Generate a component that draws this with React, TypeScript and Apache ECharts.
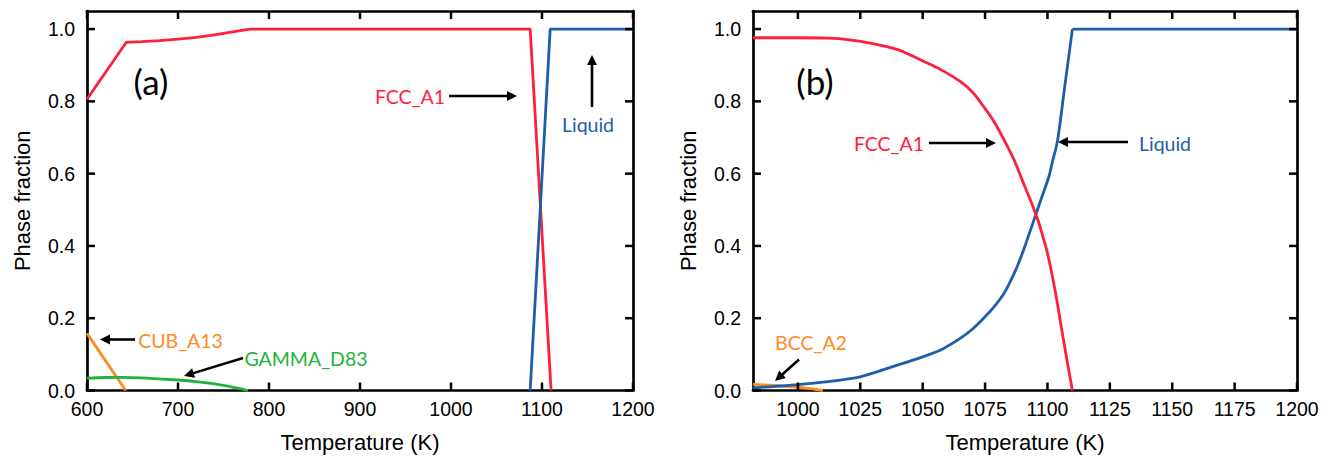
import React, { useEffect, useRef } from "react";
import * as echarts from "echarts";

// ---------- data ----------
const xTicksA = [600, 700, 800, 900, 1000, 1100, 1200];
const xTicksB = [1000, 1025, 1050, 1075, 1100, 1125, 1150, 1175, 1200];
const yTicks = [0, 0.2, 0.4, 0.6, 0.8, 1.0];

// Panel (a)
const fccA_T = [600, 643, 660, 680, 700, 720, 740, 760, 779, 1087, 1110];
const fccA_F = [0.806, 0.963, 0.965, 0.968, 0.972, 0.977, 0.984, 0.992, 1.0, 1.0, 0.0];
const liqA_T = [1087, 1109, 1200];
const liqA_F = [0.0, 1.0, 1.0];
const cubA_T = [600, 642.5];
const cubA_F = [0.158, 0.0];
const gamA_T = [600, 620, 640, 660, 680, 700, 725, 750, 777];
const gamA_F = [0.034, 0.036, 0.0365, 0.035, 0.032, 0.029, 0.023, 0.014, 0.0];

// Panel (b)
const fccB_T = [982, 1000, 1012, 1020, 1030, 1040, 1050, 1058, 1065, 1070, 1075, 1078.5, 1082.5, 1086.5, 1090, 1093, 1096, 1098, 1100, 1102, 1104, 1106, 1108, 1110];
const fccB_F = [0.976, 0.976, 0.975, 0.971, 0.96, 0.943, 0.912, 0.885, 0.855, 0.825, 0.78, 0.745, 0.695, 0.64, 0.58, 0.53, 0.475, 0.43, 0.38, 0.315, 0.24, 0.157, 0.077, 0.0];
const liqB_T = [982, 990, 1000, 1010, 1025, 1038, 1050, 1058, 1065, 1070, 1075, 1079, 1082.5, 1085, 1088, 1090.5, 1093, 1096, 1098, 1100.5, 1102, 1104, 1107, 1110];
const liqB_F = [0.007, 0.011, 0.016, 0.023, 0.038, 0.066, 0.093, 0.115, 0.144, 0.17, 0.204, 0.235, 0.268, 0.3, 0.345, 0.39, 0.44, 0.5, 0.54, 0.59, 0.633, 0.69, 0.845, 1.0];
const liqB_flat_T = [1110, 1200];
const liqB_flat_F = [1.0, 1.0];
const bccB_T = [982, 990, 1000, 1005, 1010];
const bccB_F = [0.017, 0.014, 0.009, 0.005, 0.0];

// ---------- styles / layout ----------
const RED = "#ff1f3d";
const BLUE = "#1c5ea8";
const ORANGE = "#ff8a1f";
const GREEN = "#1fb33a";
const AXIS_FONT = "'Liberation Sans', Arial, sans-serif";
const NOTE_FONT = "Lato, 'Open Sans', sans-serif";
const FRAME_W = 2.7;
const Y_MAX = 1.05;
const GRID_A = { left: 87, right: 705 };
const GRID_B = { left: 753, right: 41 };
const GRID_TOP = 11;
const GRID_BOTTOM = 70.5;
const CHART_W = 1338;
const CHART_H = 461;
const TICK_PX = 8;

const pairs = (t: number[], f: number[]) => t.map((v, i) => [v, f[i]]);

function axesFor(gi: number, min: number, max: number, labels: number[]) {
  const line = { show: true, onZero: false, lineStyle: { color: "#000", width: FRAME_W } };
  const noTick = { show: false };
  const xScale = { min, max };
  const yScale = { min: 0, max: Y_MAX };
  const xAxes = [
    {
      type: "value",
      gridIndex: gi,
      position: "bottom",
      ...xScale,
      axisLine: line,
      axisTick: noTick,
      axisLabel: {
        customValues: labels,
        color: "#000",
        fontSize: 19.5,
        fontFamily: AXIS_FONT,
        margin: 8,
        formatter: (v: number) => String(v),
      },
      splitLine: { show: false },
      name: "Temperature (K)",
      nameLocation: "middle",
      nameGap: 41,
      nameTextStyle: { fontSize: 22, color: "#000", fontFamily: AXIS_FONT },
    },
    {
      type: "value",
      gridIndex: gi,
      position: "top",
      ...xScale,
      axisLine: line,
      axisTick: noTick,
      axisLabel: { show: false },
      splitLine: { show: false },
    },
  ];
  const yAxes = [
    {
      type: "value",
      gridIndex: gi,
      position: "left",
      ...yScale,
      axisLine: line,
      axisTick: noTick,
      axisLabel: {
        customValues: yTicks,
        color: "#000",
        fontSize: 19.5,
        fontFamily: AXIS_FONT,
        margin: 12,
        formatter: (v: number) => v.toFixed(1),
      },
      splitLine: { show: false },
      name: "Phase fraction",
      nameLocation: "middle",
      nameGap: 54,
      nameRotate: 90,
      nameTextStyle: { fontSize: 22, color: "#000", fontFamily: AXIS_FONT },
    },
    {
      type: "value",
      gridIndex: gi,
      position: "right",
      ...yScale,
      axisLine: line,
      axisTick: noTick,
      axisLabel: { show: false },
      splitLine: { show: false },
    },
  ];
  return { xAxes, yAxes };
}

function lineSeries(name: string, xi: number, yi: number, data: any[], color: string, smooth: number | boolean = false) {
  return {
    type: "line",
    name,
    xAxisIndex: xi,
    yAxisIndex: yi,
    data,
    showSymbol: false,
    symbol: "none",
    smooth,
    lineStyle: { color, width: 2.8 },
    z: 3,
    silent: true,
  };
}

// inside tick marks on all four sides of a panel, from the tick lists and the panel's scale
function tickGraphics(xmin: number, xmax: number, xt: number[], grid: { left: number; right: number }) {
  const plotW = CHART_W - grid.left - grid.right;
  const plotH = CHART_H - GRID_TOP - GRID_BOTTOM;
  const x0 = grid.left;
  const x1 = CHART_W - grid.right;
  const yb = CHART_H - GRID_BOTTOM;
  const yt = GRID_TOP;
  const px = (v: number) => x0 + ((v - xmin) / (xmax - xmin)) * plotW;
  const py = (v: number) => yb - (v / Y_MAX) * plotH;
  const st = () => ({ stroke: "#000", lineWidth: 2.5 });
  const out: any[] = [];
  xt.forEach((v) => {
    const x = px(v);
    out.push({ type: "line", z: 20, silent: true, shape: { x1: x, y1: yb, x2: x, y2: yb - TICK_PX }, style: st() });
    out.push({ type: "line", z: 20, silent: true, shape: { x1: x, y1: yt, x2: x, y2: yt + TICK_PX }, style: st() });
  });
  yTicks.forEach((v) => {
    const y = py(v);
    out.push({ type: "line", z: 20, silent: true, shape: { x1: x0, y1: y, x2: x0 + TICK_PX, y2: y }, style: st() });
    out.push({ type: "line", z: 20, silent: true, shape: { x1: x1, y1: y, x2: x1 - TICK_PX, y2: y }, style: st() });
  });
  return out;
}

// annotation layer (pixel positions)
type Note = { text: string; x: number; y: number; color: string; size: number };
type Arrow = { x1: number; y1: number; x2: number; y2: number };

const notes: Note[] = [
  { text: "(a)", x: 151, y: 81, color: "#000", size: 35 },
  { text: "FCC_A1", x: 410, y: 96, color: RED, size: 19.5 },
  { text: "Liquid", x: 588, y: 124, color: BLUE, size: 19.5 },
  { text: "CUB_A13", x: 180.5, y: 340, color: ORANGE, size: 19.5 },
  { text: "GAMMA_D83", x: 306, y: 358, color: GREEN, size: 19.5 },
  { text: "(b)", x: 815, y: 81, color: "#000", size: 35 },
  { text: "FCC_A1", x: 889, y: 143, color: RED, size: 19.5 },
  { text: "Liquid", x: 1165, y: 143, color: BLUE, size: 19.5 },
  { text: "BCC_A2", x: 811, y: 342, color: ORANGE, size: 19.5 },
];

const arrows: Arrow[] = [
  { x1: 449, y1: 96, x2: 517, y2: 96 },
  { x1: 592, y1: 107, x2: 592, y2: 55 },
  { x1: 135, y1: 339.5, x2: 100, y2: 339.5 },
  { x1: 243, y1: 358, x2: 184, y2: 376 },
  { x1: 929, y1: 143, x2: 996, y2: 143 },
  { x1: 1128, y1: 142, x2: 1058, y2: 142 },
  { x1: 799, y1: 359.5, x2: 775, y2: 381 },
];

function arrowGraphics(a: Arrow) {
  const dx = a.x2 - a.x1;
  const dy = a.y2 - a.y1;
  const len = Math.hypot(dx, dy);
  const ux = dx / len;
  const uy = dy / len;
  const hl = 10;
  const hw = 5;
  const bx = a.x2 - ux * hl;
  const by = a.y2 - uy * hl;
  const nx = -uy;
  const ny = ux;
  return [
    {
      type: "line",
      shape: { x1: a.x1, y1: a.y1, x2: bx + ux, y2: by + uy },
      style: { stroke: "#000", lineWidth: 2.6 },
      z: 10,
    },
    {
      type: "polygon",
      shape: {
        points: [
          [a.x2, a.y2],
          [bx + nx * hw, by + ny * hw],
          [bx - nx * hw, by - ny * hw],
        ],
      },
      style: { fill: "#000" },
      z: 10,
    },
  ];
}

export default function App() {
  const ref = useRef<HTMLDivElement>(null);
  useEffect(() => {
    if (!ref.current) return;
    const chart = echarts.init(ref.current, undefined, { renderer: "svg" });
    const a = axesFor(0, 600, 1200, xTicksA);
    const b = axesFor(1, 982, 1200, xTicksB);

    const graphic: any[] = [];
    graphic.push(...tickGraphics(600, 1200, xTicksA, GRID_A));
    graphic.push(...tickGraphics(982, 1200, xTicksB, GRID_B));
    notes.forEach((n) =>
      graphic.push({
        type: "text",
        x: n.x,
        y: n.y,
        z: 10,
        style: {
          text: n.text,
          fill: n.color,
          font: `${n.size}px ${NOTE_FONT}`,
          align: "center",
          verticalAlign: "middle",
        },
      })
    );
    arrows.forEach((ar) => graphic.push(...arrowGraphics(ar)));

    chart.setOption({
      animation: false,
      backgroundColor: "#fff",
      grid: [
        { ...GRID_A, top: GRID_TOP, bottom: GRID_BOTTOM, containLabel: false },
        { ...GRID_B, top: GRID_TOP, bottom: GRID_BOTTOM, containLabel: false },
      ],
      xAxis: [...a.xAxes, ...b.xAxes],
      yAxis: [...a.yAxes, ...b.yAxes],
      series: [
        lineSeries("FCC_A1 (a)", 0, 0, pairs(fccA_T, fccA_F), RED),
        lineSeries("Liquid (a)", 0, 0, pairs(liqA_T, liqA_F), BLUE),
        lineSeries("CUB_A13", 0, 0, pairs(cubA_T, cubA_F), ORANGE),
        lineSeries("GAMMA_D83", 0, 0, pairs(gamA_T, gamA_F), GREEN, 0.3),
        lineSeries("BCC_A2", 2, 2, pairs(bccB_T, bccB_F), ORANGE, 0.3),
        lineSeries("Liquid (b)", 2, 2, pairs(liqB_T, liqB_F), BLUE, 0.3),
        lineSeries("Liquid (b) flat", 2, 2, pairs(liqB_flat_T, liqB_flat_F), BLUE),
        lineSeries("FCC_A1 (b)", 2, 2, pairs(fccB_T, fccB_F), RED, 0.3),
      ],
      graphic,
    });

    return () => chart.dispose();
  }, []);
  return (
    <div
      ref={ref}
      style={{ position: "fixed", left: 0, top: 0, width: CHART_W, height: CHART_H, background: "#fff" }}
    />
  );
}
